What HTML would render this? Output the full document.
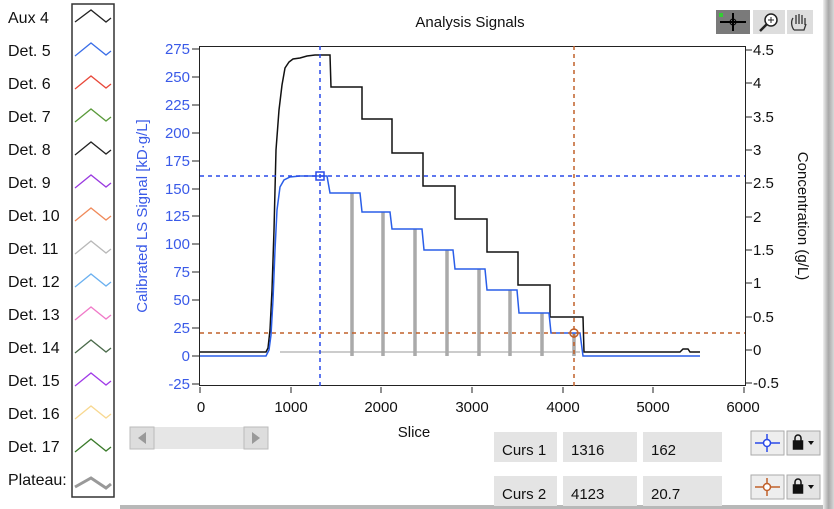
<!DOCTYPE html>
<html><head><meta charset="utf-8"><style>
body{margin:0;width:834px;height:509px;overflow:hidden;background:#fff;font-family:"Liberation Sans",sans-serif}
svg{display:block}
</style></head><body>
<svg width="834" height="509" viewBox="0 0 834 509" font-family="Liberation Sans, sans-serif">
<defs>
<linearGradient id="rg" x1="0" x2="1"><stop offset="0" stop-color="#f0f0f0"/><stop offset="0.5" stop-color="#a8a8a8"/><stop offset="1" stop-color="#d8d8d8"/></linearGradient>
</defs>
<rect x="823" y="0" width="11" height="509" fill="url(#rg)"/>
<rect x="120" y="505" width="703" height="4" fill="#b8b8b8"/>
<!-- legend -->
<rect x="72" y="4" width="42" height="493" fill="#fff" stroke="#333" stroke-width="1.5"/>
<g font-size="16" fill="#111">
<text x="8" y="23">Aux 4</text><text x="8" y="56">Det. 5</text><text x="8" y="89">Det. 6</text>
<text x="8" y="122">Det. 7</text><text x="8" y="155">Det. 8</text><text x="8" y="188">Det. 9</text>
<text x="8" y="221">Det. 10</text><text x="8" y="254">Det. 11</text><text x="8" y="287">Det. 12</text>
<text x="8" y="320">Det. 13</text><text x="8" y="353">Det. 14</text><text x="8" y="386">Det. 15</text>
<text x="8" y="419">Det. 16</text><text x="8" y="452">Det. 17</text><text x="8" y="485">Plateau:</text>
</g>
<g fill="none" stroke-width="1.3">
<polyline points="75,22 91,10 106,22 111,18" stroke="#222"/>
<polyline points="75,56 91,43 106,55 111,51" stroke="#3a6ee8"/>
<polyline points="75,89 91,76 106,88 111,84" stroke="#e8483a"/>
<polyline points="75,122 91,109 106,121 111,117" stroke="#5a9a3a"/>
<polyline points="75,155 91,142 106,154 111,150" stroke="#222"/>
<polyline points="75,188 91,175 106,187 111,183" stroke="#9a3ae0"/>
<polyline points="75,221 91,208 106,220 111,216" stroke="#f08a5a"/>
<polyline points="75,254 91,241 106,253 111,249" stroke="#b8b8b8"/>
<polyline points="75,287 91,274 106,286 111,282" stroke="#6ab0f0"/>
<polyline points="75,320 91,307 106,319 111,315" stroke="#f07ac8"/>
<polyline points="75,353 91,340 106,352 111,348" stroke="#4a6a4a"/>
<polyline points="75,386 91,373 106,385 111,381" stroke="#a03ae8"/>
<polyline points="75,419 91,406 106,418 111,414" stroke="#f8d890"/>
<polyline points="75,452 91,439 106,451 111,447" stroke="#3a7a2a"/>
<polyline points="75,487 91,478 106,488 111,484" stroke="#999" stroke-width="3"/>
</g>
<!-- title & tools -->
<text x="470" y="27" font-size="15" text-anchor="middle" fill="#111">Analysis Signals</text>
<rect x="716" y="10" width="34" height="24" fill="#7a7a7a"/>
<path d="M733 13v18M720 22h26" stroke="#000" stroke-width="2"/><circle cx="733" cy="22" r="3" fill="none" stroke="#000"/>
<rect x="719" y="13" width="4" height="4" fill="#3c3"/>
<rect x="753" y="10" width="32" height="24" fill="#ddd"/>
<circle cx="771" cy="20" r="6" fill="#fff" stroke="#222" stroke-width="1.5"/><path d="M767 24l-7 7" stroke="#222" stroke-width="2.5"/><path d="M768 20h6M771 17v6" stroke="#222"/>
<rect x="787" y="10" width="26" height="24" fill="#ddd"/>
<path d="M794 30c-3-4-3-9-1-12M796 24v-9M799 24v-10M802 24v-9M805 25v-7M794 30h10l2-6" fill="none" stroke="#333" stroke-width="1.3"/>
<!-- plot frame -->
<rect x="199.5" y="46.5" width="546" height="339" fill="#fff" stroke="#222"/>
<!-- left ticks -->
<g font-size="15" fill="#3a5ae8" text-anchor="end">
<text x="190" y="54">275</text><text x="190" y="82">250</text><text x="190" y="110">225</text>
<text x="190" y="138">200</text><text x="190" y="166">175</text><text x="190" y="194">150</text>
<text x="190" y="221">125</text><text x="190" y="249">100</text><text x="190" y="277">75</text>
<text x="190" y="305">50</text><text x="190" y="333">25</text><text x="190" y="361">0</text>
<text x="190" y="389">-25</text>
</g>
<g stroke="#222"><path d="M192 49h7M192 77h7M192 105h7M192 133h7M192 161h7M192 189h7M192 216h7M192 244h7M192 272h7M192 300h7M192 328h7M192 356h7M192 384h7"/>
<path d="M746 50h6M746 83h6M746 117h6M746 150h6M746 183h6M746 217h6M746 250h6M746 283h6M746 317h6M746 350h6M746 383h6"/>
<path d="M200 387v6M291 387v6M381 387v6M472 387v6M563 387v6M653 387v6M744 387v6"/></g>
<g font-size="15" fill="#111">
<text x="753" y="55">4.5</text><text x="753" y="88">4</text><text x="753" y="122">3.5</text>
<text x="753" y="155">3</text><text x="753" y="188">2.5</text><text x="753" y="222">2</text>
<text x="753" y="255">1.5</text><text x="753" y="288">1</text><text x="753" y="322">0.5</text>
<text x="753" y="355">0</text><text x="753" y="388">-0.5</text>
</g>
<g font-size="15" fill="#111" text-anchor="middle">
<text x="201" y="412">0</text><text x="291" y="412">1000</text><text x="381" y="412">2000</text>
<text x="472" y="412">3000</text><text x="563" y="412">4000</text><text x="653" y="412">5000</text>
<text x="743" y="412">6000</text><text x="414" y="437">Slice</text>
</g>
<text transform="translate(147,216) rotate(-90)" font-size="15" fill="#3a5ae8" text-anchor="middle">Calibrated LS Signal [kD·g/L]</text>
<text transform="translate(798,216) rotate(90)" font-size="15" fill="#111" text-anchor="middle">Concentration (g/L)</text>
<!-- plateau -->
<path d="M280 352H580" stroke="#bbb" stroke-width="1.5"/>
<g stroke="#aaa" stroke-width="3.5">
<path d="M352 356V193M383 356V212M415 356V229M447 356V250M479 356V269M510 356V290M542 356V313M574 356V333"/>
</g>
<!-- black -->
<polyline fill="none" stroke="#111" stroke-width="1.5" points="200,352 266,352 268,348 270,330 272,290 274,230 276,150 279,110 282,85 285,68 289,62 293,59 300,58 307,56 315,55 330,55 331,87 362,87 362,119 392,119 392,153 423,153 423,186 455,186 455,219 487,219 487,252 518,252 518,285 550,285 550,317 583,317 584,352 680,352 683,349 688,349 690,352 700,352"/>
<!-- blue -->
<polyline fill="none" stroke="#2a5ee8" stroke-width="1.5" points="200,356 266,356 269,350 271,335 273,300 275,250 277,210 280,187 284,180 290,177 300,176 327,176 330,193 360,193 362,212 390,212 392,229 422,229 424,250 453,250 455,269 485,269 487,290 517,290 519,313 549,313 551,333 580,333 583,356 700,356"/>
<!-- cursors -->
<g stroke-width="1.5" stroke-dasharray="4,4">
<path d="M320 46V386M200 176H745" stroke="#2a4ae8"/>
<path d="M574 46V386M200 333H745" stroke="#c0602a"/>
</g>
<rect x="316" y="172" width="8" height="8" fill="none" stroke="#2a4ae8" stroke-width="1.5"/>
<circle cx="574" cy="333" r="4" fill="none" stroke="#c0602a" stroke-width="1.5"/>
<!-- scrollbar -->
<rect x="130" y="427" width="138" height="22" fill="#e6e6e6"/>
<rect x="130" y="427" width="24" height="22" fill="#ddd" stroke="#bbb"/>
<rect x="244" y="427" width="24" height="22" fill="#ddd" stroke="#bbb"/>
<path d="M146 432l-8 6 8 6z" fill="#999"/><path d="M252 432l8 6-8 6z" fill="#999"/>
<!-- cursor panel -->
<g fill="#e4e4e4">
<rect x="494" y="432" width="63" height="30"/><rect x="563" y="432" width="74" height="30"/><rect x="643" y="432" width="79" height="30"/>
<rect x="494" y="476" width="63" height="30"/><rect x="563" y="476" width="74" height="30"/><rect x="643" y="476" width="79" height="30"/>
</g>
<g font-size="15" fill="#111">
<text x="502" y="455">Curs 1</text><text x="571" y="455">1316</text><text x="651" y="455">162</text>
<text x="502" y="499">Curs 2</text><text x="571" y="499">4123</text><text x="651" y="499">20.7</text>
</g>
<rect x="751" y="431" width="33" height="24" fill="#eee" stroke="#aaa"/>
<path d="M755 443h25M767 434v18" stroke="#2a4ae8" stroke-width="1.5"/><circle cx="767" cy="443" r="3.5" fill="#fff" stroke="#2a4ae8" stroke-width="1.5"/>
<rect x="787" y="431" width="33" height="24" fill="#e4e4e4" stroke="#aaa"/>
<g fill="none" stroke="#111" stroke-width="1.5"><path d="M795 441v-3a3 3 0 0 1 6 0v3"/><rect x="793.5" y="441" width="9" height="8" fill="#111"/></g>
<path d="M808 441h6l-3 4z" fill="#111"/>
<rect x="751" y="475" width="33" height="24" fill="#eee" stroke="#aaa"/>
<path d="M755 487h25M767 478v18" stroke="#c0602a" stroke-width="1.5"/><circle cx="767" cy="487" r="3.5" fill="#fff" stroke="#c0602a" stroke-width="1.5"/>
<rect x="787" y="475" width="33" height="24" fill="#e4e4e4" stroke="#aaa"/>
<g fill="none" stroke="#111" stroke-width="1.5"><path d="M795 485v-3a3 3 0 0 1 6 0v3"/><rect x="793.5" y="485" width="9" height="8" fill="#111"/></g>
<path d="M808 485h6l-3 4z" fill="#111"/>
</svg>
</body></html>
